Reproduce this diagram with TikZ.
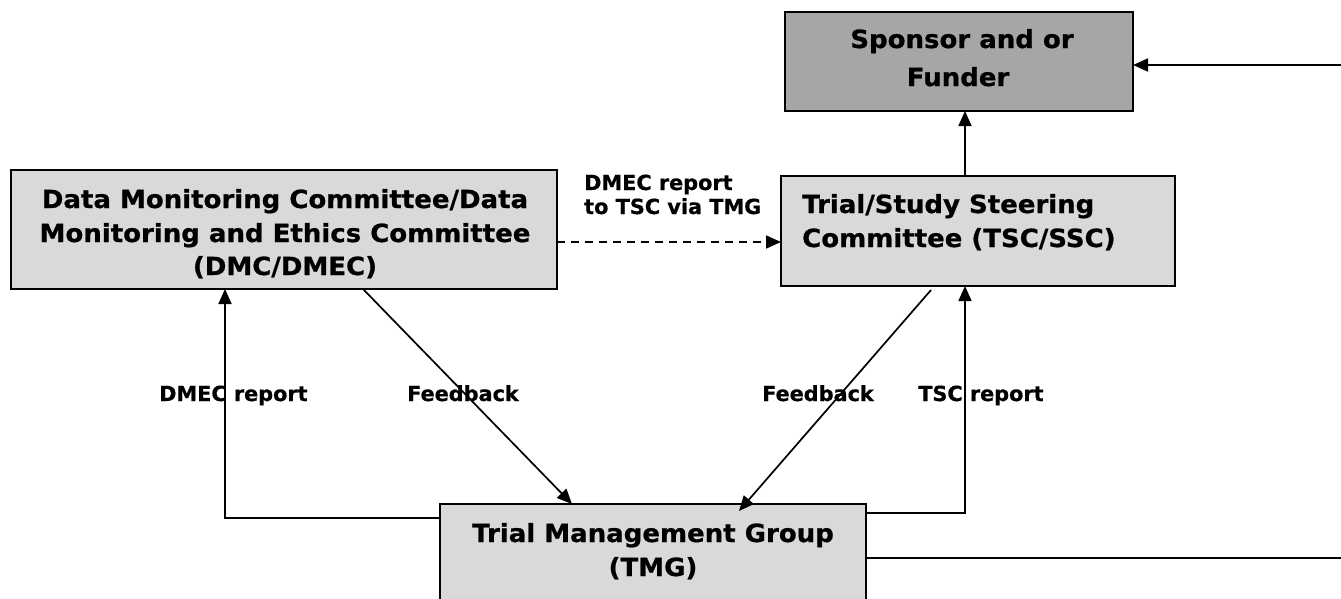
\documentclass[tikz,border=0pt]{standalone}
\usepackage{fontspec}
\setmainfont{DejaVu Sans}
\newfontfamily\boxfont[FakeStretch=1.04,FakeBold=0.8]{DejaVu Sans}
\newfontfamily\lblfont[FakeBold=0.6]{DejaVu Sans}
\usetikzlibrary{arrows.meta}
\definecolor{boxgray}{HTML}{D9D9D9}
\definecolor{darkgray}{HTML}{A6A6A6}
\tikzset{
  blk/.style={draw=black, line width=2pt, fill=boxgray, inner sep=0pt, outer sep=0pt},
  btxt/.style={inner sep=0pt, anchor=base, font=\boxfont\bfseries\fontsize{25}{30}\selectfont},
  btxtl/.style={btxt, anchor=base west},
  ltxt/.style={inner sep=0pt, anchor=base west, font=\lblfont\bfseries\fontsize{20.8}{24}\selectfont},
  conn/.style={line width=1.7pt, draw=black},
  arr/.style={conn, -{Triangle[length=15pt,width=13pt]}},
}
\begin{document}
\begin{tikzpicture}[x=1pt,y=-1pt]
\useasboundingbox (0,0) rectangle (1341,598);
% boxes
\path[blk, fill=darkgray] (785,12) rectangle (1133,111);
\node[inner sep=0pt, outer sep=0pt, minimum width=348pt, minimum height=99pt] (sp) at (959,61.5) {};
\path[blk] (781,176) rectangle (1175,286);
\node[inner sep=0pt, outer sep=0pt, minimum width=394pt, minimum height=110pt] (tsc) at (978,231) {};
\path[blk] (11,170) rectangle (557,289);
\node[inner sep=0pt, outer sep=0pt, minimum width=546pt, minimum height=119pt] (dmc) at (284,229.5) {};
\path[blk] (440,504) rectangle (866,640);
\node[inner sep=0pt, outer sep=0pt, minimum width=426pt, minimum height=136pt] (tmg) at (653,572) {};
% box texts
\node[btxt] (sp1) at (962,48) {Sponsor and or};
\node[btxt] (sp2) at (958,86) {Funder};
\node[btxt] (dmc1) at (285,208) {Data Monitoring Committee/Data};
\node[btxt] (dmc2) at (285,242) {Monitoring and Ethics Committee};
\node[btxt] (dmc3) at (285,275) {(DMC/DMEC)};
\node[btxtl] (tsc1) at (802,213) {Trial/Study Steering};
\node[btxtl] (tsc2) at (802,247) {Committee (TSC/SSC)};
\node[btxt] (tmg1) at (653,542) {Trial Management Group};
\node[btxt] (tmg2) at (653,576) {(TMG)};
% labels
\node[ltxt] (l1) at (584,190) {DMEC report};
\node[ltxt] (l2) at (584,214) {to TSC via TMG};
\node[ltxt] (l3) at (159,401) {DMEC report};
\node[ltxt] (l4) at (407,401) {Feedback};
\node[ltxt] (l5) at (762,401) {Feedback};
\node[ltxt] (l6) at (918,401) {TSC report};
% coordinates
\coordinate (c1) at (225,518);
\coordinate (c2) at (965,513);
\coordinate (c3) at (1352,558);
\coordinate (c4) at (1352,65);
% connectors
\draw[arr] (tsc.north -| 965,0) -- (sp.south -| 965,0);
\draw[arr, dash pattern=on 8pt off 6pt] (dmc.east |- 0,242) -- (tsc.west |- 0,242);
\draw[arr] (tmg.west |- c1) -- (c1) -- (c1 |- dmc.south);
\draw[arr] (363,289) -- (572,504);
\draw[arr] (931,290) -- (739,511);
\draw[arr] (tmg.east |- c2) -- (c2) -- (c2 |- tsc.south);
\draw[arr] (tmg.east |- c3) -- (c3) -- (c4) -- (sp.east |- c4);
\end{tikzpicture}
\end{document}
